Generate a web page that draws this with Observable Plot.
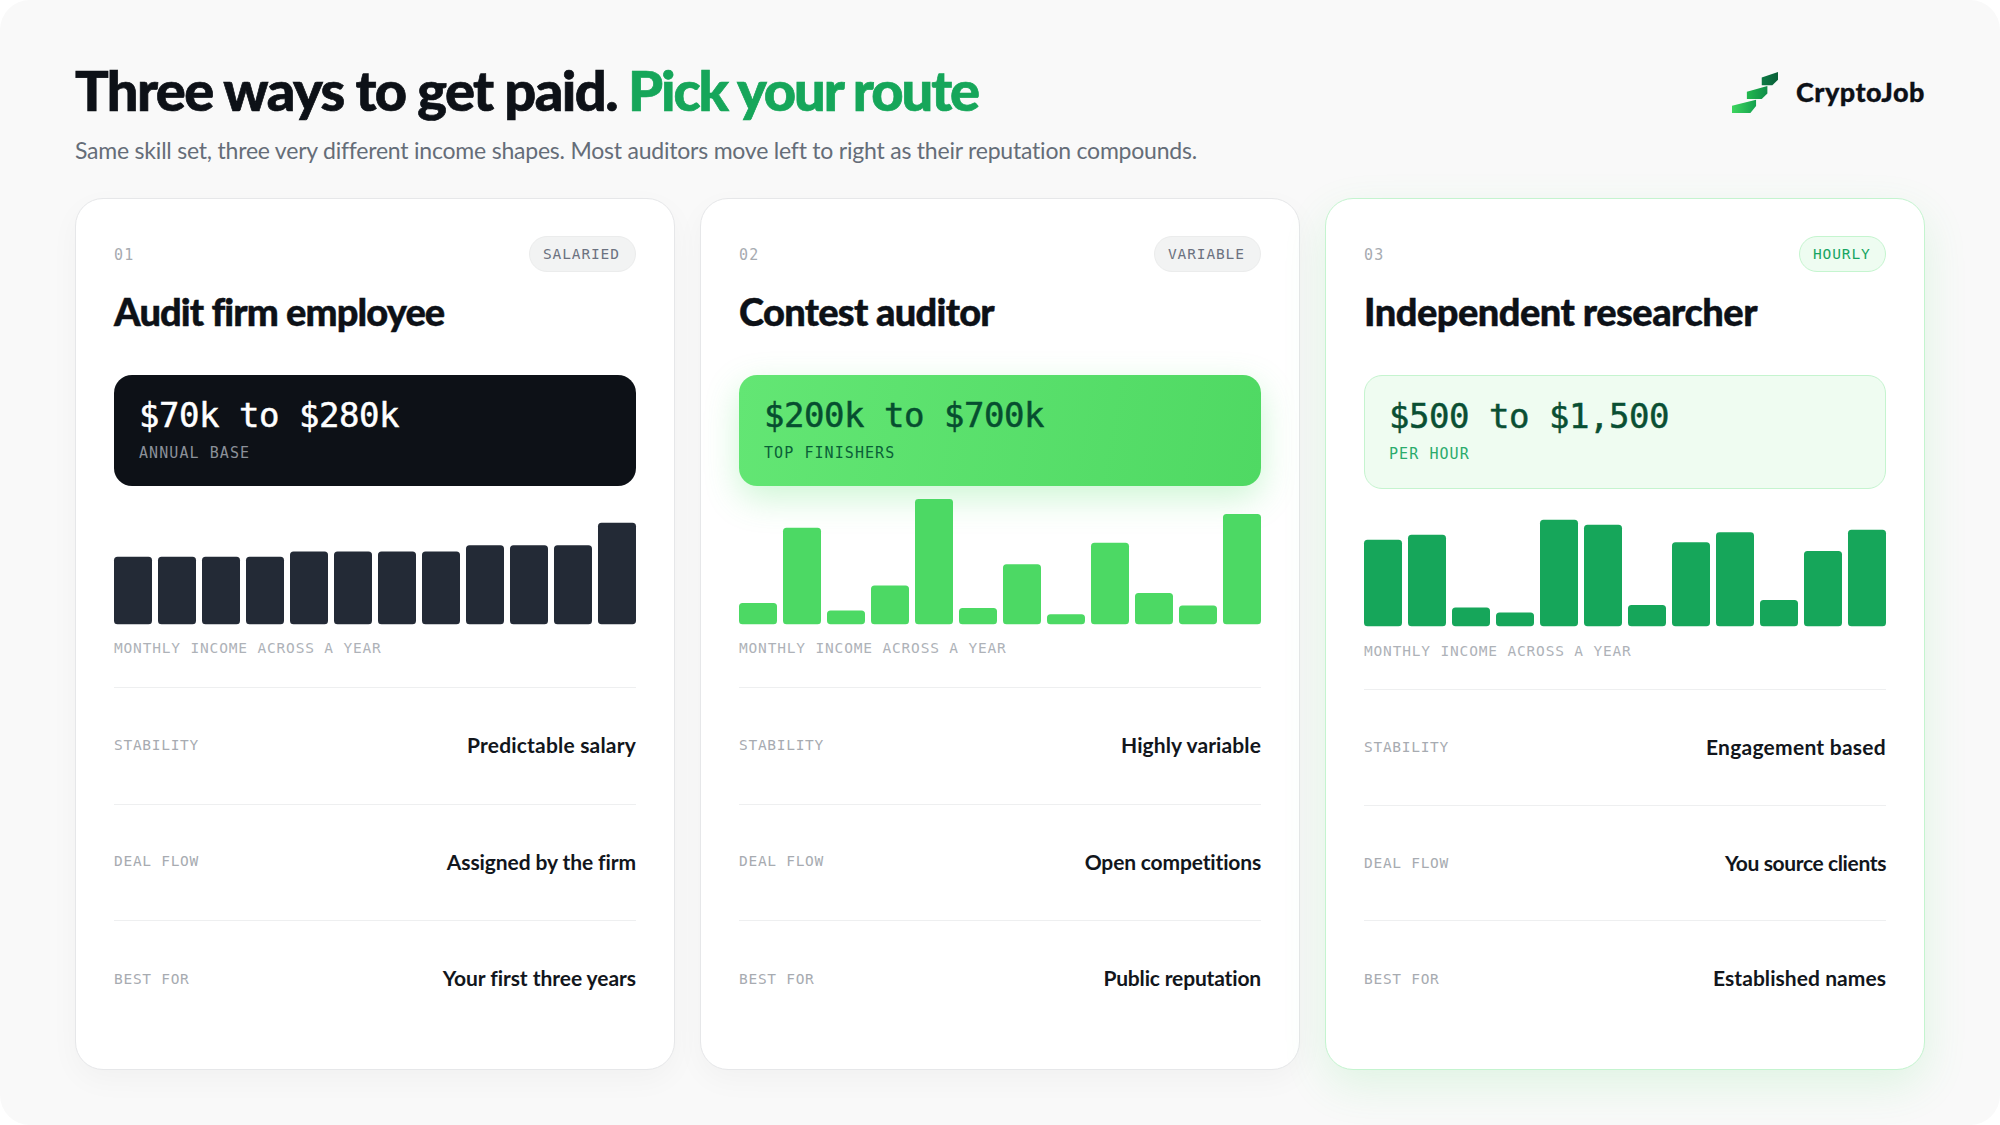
<!DOCTYPE html>
<html lang="en">
<head>
<meta charset="utf-8">
<title>Three ways to get paid</title>
<script src="https://cdn.jsdelivr.net/npm/d3@7"></script>
<script src="https://cdn.jsdelivr.net/npm/@observablehq/plot@0.6"></script>
<style>
  html, body { margin: 0; padding: 0; background: #fff; width: 2000px; height: 1125px; }
  #page { position: relative; width: 2000px; height: 1125px; background: #f9f9f9; border-radius: 30px; }
  #page * { box-sizing: border-box; }
  .t { position: absolute; white-space: nowrap; line-height: 1.4; padding: 0 8px; }
  .sans { font-family: Lato, "Open Sans", sans-serif; }
  .mono { font-family: "DejaVu Sans Mono", "Liberation Mono", monospace; }
  .card { position: absolute; top: 198px; width: 600px; height: 872px; background: #fff; border: 1.5px solid #e6e7e9; border-radius: 28px; box-shadow: 0 10px 30px rgba(15, 20, 30, .035); }
  .card.hot { border-color: #c4f4cf; box-shadow: 0 16px 44px rgba(74, 222, 100, .14); }
  .pill { position: absolute; height: 36px; border-radius: 18px; background: #f2f3f3; border: 1.5px solid #ebecec; }
  .hot-pill { background: #eefcf1; border-color: #c5f5cf; }
  .box { position: absolute; border-radius: 18px; }
  .rule { position: absolute; height: 1px; background: #eeeff0; }
  .plotwrap { position: absolute; }
  .plotwrap svg { display: block; overflow: visible; }
</style>
</head>
<body>
<div id="page"></div>
<script>
// ---------- data ----------
const months = ["Jan","Feb","Mar","Apr","May","Jun","Jul","Aug","Sep","Oct","Nov","Dec"];
const salariedIncome = [54,54,54,54,58,58,58,58,63,63,63,81];
const contestIncome  = [17,77,11,31,100,13,48,8,65,25,15,88];
const hourlyIncome   = [69,73,15,11,85,81,17,67,75,21,60,77];

const cardNumbers = ["01","02","03"];
const cardTags    = ["SALARIED","VARIABLE","HOURLY"];
const cardTitles  = ["Audit firm employee","Contest auditor","Independent researcher"];
const cardRanges  = ["$70k to $280k","$200k to $700k","$500 to $1,500"];
const rangeNotes  = ["ANNUAL BASE","TOP FINISHERS","PER HOUR"];
const chartNote   = "MONTHLY INCOME ACROSS A YEAR";
const rowLabels   = ["STABILITY","DEAL FLOW","BEST FOR"];
const stabilityValues = ["Predictable salary","Highly variable","Engagement based"];
const dealFlowValues  = ["Assigned by the firm","Open competitions","You source clients"];
const bestForValues   = ["Your first three years","Public reputation","Established names"];

const titleLead   = "Three ways to get paid.";
const titleAccent = "Pick your route";
const subtitle    = "Same skill set, three very different income shapes. Most auditors move left to right as their reputation compounds.";
const brand       = "CryptoJob";

// ---------- layout and style ----------
const widths = {
  [titleLead]: 542, [titleAccent]: 350, [subtitle]: 1121, [brand]: 129,
  "Audit firm employee": 330, "Contest auditor": 255, "Independent researcher": 393,
  "Predictable salary": 169, "Highly variable": 140, "Engagement based": 180,
  "Assigned by the firm": 189, "Open competitions": 177, "You source clients": 161,
  "Your first three years": 193, "Public reputation": 158, "Established names": 173
};
const themes = [
  { left: 75, bar: "#232a36", pillW: 107, ink: "#6b7280",
    boxH: 111, boxCss: "background:#0d1117", rangeInk: "#ffffff", noteInk: "#8b9099",
    rangeY: 427.7, noteY: 458.7, base: 624, capY: 653.5,
    ruleY: [687,804.3,920.3], labelY: [750.2,866.5,984], valueY: [752.7,870,986] },
  { left: 700, bar: "#4cd964", pillW: 107, ink: "#6b7280",
    boxH: 111, boxCss: "background:linear-gradient(100deg,#63e674,#4fd963);box-shadow:0 12px 34px rgba(74,222,100,.28)", rangeInk: "#064e2f", noteInk: "#0a6038",
    rangeY: 427.7, noteY: 458.7, base: 624, capY: 653.5,
    ruleY: [687,804.3,920.3], labelY: [750.2,866.5,984], valueY: [752.7,870,986] },
  { left: 1325, bar: "#16a65a", pillW: 87, ink: "#17a562",
    boxH: 113.5, boxCss: "background:#effcf1;border:1.5px solid #c5f4cf", rangeInk: "#0a4f33", noteInk: "#2bab6c",
    rangeY: 429, noteY: 459.8, base: 626, capY: 656,
    ruleY: [689.3,805.3,920.3], labelY: [752.5,867.8,984], valueY: [755.3,871.3,986] }
];
const chartHeight = 125.3, innerWidth = 522, inset = 39, PAD = 8;
const CENTER = { sans: 0.387, mono: 0.346 };
const LINE = 1.4;
const page = document.getElementById("page");

function text(parent, str, o) {
  const el = document.createElement("div");
  el.className = "t " + o.font;
  el.textContent = str;
  el.style.top = (o.base - (CENTER[o.font] + LINE / 2) * o.size) + "px";
  if (o.right != null) el.style.right = (o.right - PAD) + "px"; else el.style.left = (o.x - PAD) + "px";
  el.style.fontSize = o.size + "px";
  el.style.fontWeight = o.weight || 400;
  el.style.color = o.color;
  if (o.track != null) el.style.letterSpacing = o.track + "px";
  if (o.stroke) el.style.webkitTextStroke = o.stroke + "px " + o.color;
  parent.appendChild(el);
  const target = widths[str];
  if (target) {
    const natural = el.getBoundingClientRect().width - 2 * PAD;
    el.style.letterSpacing = ((target - natural) / str.length) + "px";
  }
  return el;
}
function block(parent, cls, css) {
  const el = document.createElement("div");
  el.className = cls;
  el.style.cssText = css;
  parent.appendChild(el);
  return el;
}

// ---------- header ----------
text(page, titleLead,   { font: "sans", x: 75,  base: 112.2, size: 56, weight: 900, color: "#0d1117", stroke: 0.7 });
text(page, titleAccent, { font: "sans", x: 628, base: 112.2, size: 56, weight: 900, color: "#16a65a", stroke: 0.7 });
text(page, subtitle,    { font: "sans", x: 75,  base: 159,   size: 23, weight: 400, color: "#656d78" });

const logo = block(page, "", "position:absolute;left:1732px;top:72px;width:46px;height:41px");
logo.innerHTML = `<svg width="46" height="41" viewBox="38 38 130 118" preserveAspectRatio="none">
  <defs><linearGradient id="lg1" x1="0" x2="1"><stop offset="0" stop-color="#0c7a45"/><stop offset="1" stop-color="#0a5f38"/></linearGradient>
  <linearGradient id="lg2" x1="0" x2="1"><stop offset="0" stop-color="#22b84f"/><stop offset="1" stop-color="#0f8d49"/></linearGradient>
  <linearGradient id="lg3" x1="0" x2="1"><stop offset="0" stop-color="#3ed65f"/><stop offset="1" stop-color="#14a04e"/></linearGradient></defs>
  <path fill="url(#lg1)" d="M122 54 L168 38 L168 60 L152 76 L122 76 Z"/>
  <path fill="url(#lg2)" d="M80 95 L138 78 L138 100 L122 116 L80 116 Z"/>
  <path fill="url(#lg3)" d="M38 135 L106 118 L106 136 L90 156 L38 156 Z"/></svg>`;
text(page, brand, { font: "sans", x: 1796, base: 102.5, size: 27, weight: 900, color: "#0d1117", stroke: 0.3 });

// ---------- cards ----------
const incomes = [salariedIncome, contestIncome, hourlyIncome];
const rowValues = [stabilityValues, dealFlowValues, bestForValues];

themes.forEach((th, i) => {
  block(page, "card" + (i === 2 ? " hot" : ""), `left:${th.left}px`);
  const x = th.left + inset, right = 2000 - (x + innerWidth);

  text(page, cardNumbers[i], { font: "mono", x, base: 260.3, size: 15, color: "#a7abb1", track: 1.2 });
  block(page, "pill" + (i === 2 ? " hot-pill" : ""), `left:${x + innerWidth - th.pillW}px;top:236px;width:${th.pillW}px`);
  text(page, cardTags[i], { font: "mono", x: x + innerWidth - th.pillW + 14, base: 259.3, size: 14.5, color: th.ink, track: 0.87 });
  text(page, cardTitles[i], { font: "sans", x, base: 326, size: 38, weight: 900, color: "#0d1117", stroke: 0.45 });

  block(page, "box", `left:${x}px;top:375px;width:${innerWidth}px;height:${th.boxH}px;${th.boxCss}`);
  text(page, cardRanges[i], { font: "mono", x: x + 25, base: th.rangeY, size: 34, color: th.rangeInk, stroke: 0.5, track: -0.47 });
  text(page, rangeNotes[i], { font: "mono", x: x + 25, base: th.noteY, size: 15, color: th.noteInk, track: 1.07 });

  const rows = months.map((month, m) => ({ month, value: incomes[i][m] }));
  const chart = Plot.plot({
    width: innerWidth,
    height: chartHeight,
    margin: 0,
    style: { background: "transparent", overflow: "visible" },
    x: { domain: months, axis: null, paddingInner: 6 / 44, paddingOuter: 0, round: false },
    y: { domain: [0, 100], axis: null },
    marks: [ Plot.barY(rows, { x: "month", y: "value", fill: th.bar, rx: 3.5 }) ]
  });
  const wrap = block(page, "plotwrap", `left:${x}px;top:${th.base - chartHeight}px;width:${innerWidth}px;height:${chartHeight}px`);
  wrap.appendChild(chart);

  text(page, chartNote, { font: "mono", x, base: th.capY, size: 14.5, color: "#aeb2b8", track: 0.83 });

  rowLabels.forEach((label, r) => {
    block(page, "rule", `left:${x}px;top:${th.ruleY[r]}px;width:${innerWidth}px`);
    text(page, label, { font: "mono", x, base: th.labelY[r], size: 14.5, color: "#a7abb1", track: 0.71 });
    text(page, rowValues[r][i], { font: "sans", right, base: th.valueY[r], size: 21, weight: 700, color: "#12161c" });
  });
});
</script>
</body>
</html>
